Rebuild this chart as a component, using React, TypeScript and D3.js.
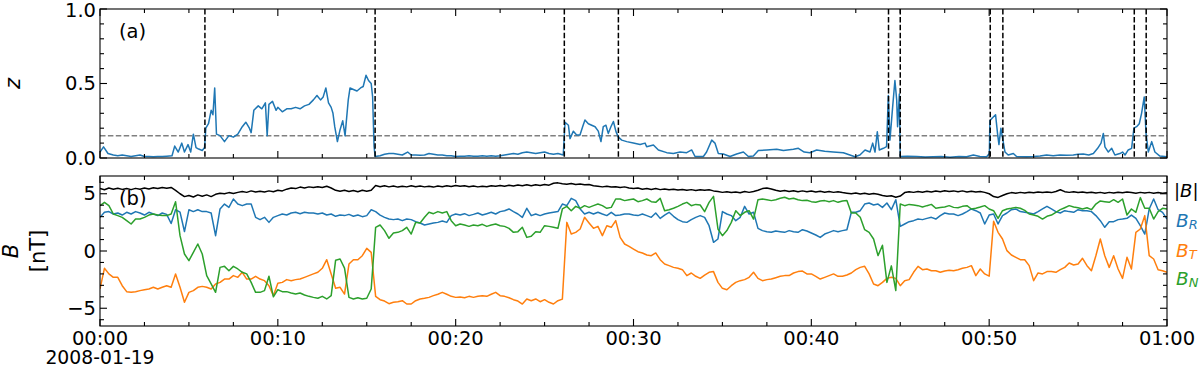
import React from 'react';
import * as d3 from 'd3';

// ---------- data ----------
const xTickLabels = ['00:00', '00:10', '00:20', '00:30', '00:40', '00:50', '01:00'];
const xTickMinutes = [0, 10, 20, 30, 40, 50, 60];
const dateLabel = '2008-01-19';
const eventTimes = [5.9, 15.47, 26.11, 29.15, 44.34, 45.0, 50.06, 50.77, 58.16, 58.83];
const zThreshold = 0.15;
const STEP = 0.25; // minutes between B samples

const zData: [number, number][] = [
  [0,0.04],[0.2,0.075],[0.45,0.03],[0.75,0.02],[1,0.015],[1.25,0.02],[1.5,0.015],[1.75,0.01],[2,0.015],[2.25,0.02],[2.5,0.01],[2.75,0.01],[3,0.008],[3.25,0.01],[3.5,0.01],[3.75,0.012],[4.05,0.015],[4.2,0.08],[4.4,0.04],[4.6,0.1],[4.75,0.04],[4.95,0.09],[5.1,0.04],[5.25,0.16],[5.4,0.07],[5.55,0.06],[5.75,0.05],[5.88,0.07],[5.95,0.2],[6.1,0.23],[6.25,0.32],[6.35,0.29],[6.45,0.47],[6.55,0.16],[6.75,0.15],[7.0,0.11],[7.25,0.15],[7.5,0.14],[7.75,0.16],[8.0,0.21],[8.2,0.24],[8.4,0.2],[8.5,0.17],[8.65,0.32],[8.9,0.35],[9.1,0.33],[9.3,0.37],[9.4,0.15],[9.5,0.36],[9.7,0.38],[9.9,0.32],[10.0,0.34],[10.25,0.31],[10.5,0.33],[10.75,0.33],[11.0,0.34],[11.25,0.33],[11.5,0.35],[11.75,0.36],[12.0,0.39],[12.2,0.42],[12.4,0.39],[12.55,0.41],[12.7,0.47],[12.85,0.37],[13.0,0.34],[13.1,0.3],[13.2,0.21],[13.35,0.11],[13.5,0.19],[13.65,0.25],[13.78,0.15],[13.96,0.39],[14.06,0.47],[14.25,0.46],[14.45,0.45],[14.65,0.47],[14.8,0.48],[14.96,0.555],[15.1,0.52],[15.25,0.5],[15.33,0.41],[15.41,0.08],[15.47,0.01],[15.75,0.015],[16.0,0.025],[16.25,0.03],[16.5,0.03],[16.75,0.025],
  [17.0,0.02],[17.3,0.04],[17.5,0.02],[17.75,0.02],[18.0,0.018],[18.25,0.02],[18.5,0.03],[18.75,0.025],[19.0,0.02],[19.25,0.02],[19.5,0.015],[19.75,0.015],[20.0,0.01],[20.25,0.012],[20.5,0.012],[20.75,0.015],[21.0,0.012],[21.25,0.012],[21.5,0.015],[21.75,0.012],[22.0,0.015],[22.25,0.012],[22.5,0.015],[22.75,0.02],[23.0,0.025],[23.25,0.03],[23.5,0.025],[23.75,0.035],[24.0,0.04],[24.25,0.035],[24.5,0.03],[24.75,0.035],[25.0,0.04],[25.25,0.03],[25.5,0.025],[25.75,0.03],[26.05,0.02],[26.15,0.24],[26.34,0.22],[26.43,0.13],[26.62,0.18],[26.8,0.155],[26.99,0.155],[27.14,0.21],[27.27,0.255],[27.46,0.23],[27.65,0.22],[27.84,0.21],[28.02,0.18],[28.17,0.11],[28.3,0.21],[28.45,0.22],[28.58,0.165],[28.73,0.21],[28.87,0.245],[29.02,0.175],[29.15,0.14],[29.34,0.12],[29.62,0.11],[29.99,0.1],[30.37,0.09],[30.65,0.1],[30.74,0.075],[31.12,0.087],[31.4,0.054],[31.87,0.036],[32.24,0.03],[32.62,0.04],[32.99,0.036],[33.27,0.054],[33.46,0.01],[33.93,0.01],[34.11,0.04],[34.4,0.12],[34.58,0.1],[34.77,0.03],[35.05,0.027],[35.43,0.01],[35.8,0.027],[36.18,0.04],[36.46,0.01],[36.74,0.013],[37.02,0.05],[37.49,0.054],[38.05,0.058],[38.43,0.05],[38.99,0.058],[39.27,0.065],
  [39.6,0.04],[39.92,0.035],[40.3,0.054],[40.75,0.045],[41.23,0.04],[41.8,0.035],[42.17,0.02],[42.45,0.008],[42.73,0.02],[43.02,0.054],[43.3,0.04],[43.45,0.1],[43.58,0.04],[43.71,0.176],[43.82,0.054],[44.05,0.065],[44.23,0.076],[44.33,0.42],[44.42,0.12],[44.57,0.34],[44.7,0.52],[44.8,0.39],[44.85,0.21],[44.95,0.43],[45.0,0.01],[45.4,0.012],[45.92,0.01],[46.4,0.006],[46.86,0.008],[47.3,0.01],[47.8,0.005],[48.3,0.01],[48.73,0.008],[49.11,0.02],[49.48,0.01],[49.86,0.008],[50.01,0.03],[50.04,0.25],[50.19,0.27],[50.36,0.29],[50.47,0.165],[50.55,0.09],[50.66,0.2],[50.76,0.13],[50.89,0.04],[51.07,0.02],[51.36,0.03],[51.54,0.01],[52.1,0.008],[52.5,0.01],[52.86,0.013],[53.23,0.02],[53.6,0.015],[53.98,0.02],[54.35,0.018],[54.73,0.02],[55.0,0.025],[55.29,0.027],[55.6,0.02],[55.86,0.03],[56.1,0.065],[56.29,0.1],[56.42,0.165],[56.51,0.075],[56.7,0.04],[56.89,0.065],[57.07,0.02],[57.35,0.03],[57.5,0.04],[57.64,0.02],[57.82,0.054],[58.01,0.065],[58.14,0.2],[58.29,0.21],[58.44,0.23],[58.57,0.3],[58.72,0.41],[58.82,0.165],[58.95,0.04],[59.14,0.11],[59.32,0.04],[59.6,0.013],[60,0.008],
];

const bMag = [
  5.45,5.35,5.5,5.4,5.48,5.38,5.45,5.36,5.47,5.4,5.5,5.42,5.52,5.45,5.55,5.48,5.55,5.3,5.0,4.75,4.85,4.72,4.9,4.78,4.9,4.75,4.95,5.05,5.0,5.1,5.02,5.12,5.2,5.12,5.25,5.15,5.22,5.15,5.25,5.18,5.3,5.25,5.4,5.5,5.45,5.58,5.5,5.6,5.55,
  5.62,5.55,5.65,5.5,5.3,5.22,5.3,5.2,5.28,5.18,5.3,5.22,5.3,5.72,5.62,5.7,5.6,5.68,5.58,5.66,5.6,5.7,5.62,5.68,5.6,5.65,5.58,5.68,5.62,5.7,5.64,5.72,5.65,5.7,5.62,5.68,5.6,5.66,5.62,5.7,5.65,5.72,5.66,5.74,5.68,5.76,5.7,5.78,
  5.7,5.78,5.72,5.8,5.75,5.92,5.95,5.88,5.82,5.9,5.8,5.86,5.78,5.8,5.7,5.66,5.6,5.66,5.58,5.62,5.55,5.6,5.5,5.45,5.5,5.4,5.45,5.38,5.45,5.36,5.42,5.35,5.4,5.32,5.38,5.3,5.36,5.28,5.35,5.3,5.34,5.25,5.2,5.12,5.18,5.1,5.15,5.08,
  5.2,5.12,5.2,5.3,5.45,5.5,5.42,5.3,5.22,5.28,5.2,5.26,5.18,5.25,5.18,5.24,5.15,5.22,5.14,5.2,5.12,5.18,5.1,5.05,5.0,5.06,4.98,5.04,4.96,5.02,4.95,4.85,4.78,4.82,4.7,4.8,5.1,5.18,5.12,5.2,5.14,5.22,5.15,5.24,5.18,5.26,5.2,5.25,
  5.18,5.25,5.16,5.22,5.15,5.2,5.12,5.0,4.75,4.68,4.85,5.0,5.1,5.05,5.12,5.06,5.14,5.08,5.15,5.1,5.16,5.1,5.2,5.35,5.18,5.12,5.18,5.1,5.16,5.08,5.14,5.06,5.12,5.05,5.12,5.06,5.14,5.08,5.15,5.1,5.05,5.12,5.06,5.12,5.05,5.1,5.04,5.08,
];

const bR = [
  2.94,3.38,3.44,3.23,3.32,3.14,3.38,3.23,3.44,3.32,3.14,3.38,3.23,3.09,3.32,3.2,2.4,3.6,3.4,1.7,3.6,3.44,3.6,3.44,3.44,3.32,1.34,3.67,4.1,3.81,4.54,4.1,3.96,4.1,4.1,2.94,2.74,2.94,2.5,2.94,3.09,3.23,3.14,3.32,3.38,3.26,3.38,3.32,3.32,
  3.23,3.32,3.14,3.23,3.03,3.14,3.09,3.2,3.03,3.14,3.0,3.09,3.6,3.44,3.14,2.94,2.79,2.74,2.79,2.65,2.79,2.74,2.56,2.45,2.27,2.36,2.45,2.5,2.62,2.5,3.09,3.23,3.14,3.26,3.09,3.2,3.32,3.14,3.26,3.38,3.23,3.44,3.52,3.67,3.44,3.23,2.94,3.73,
  3.09,3.23,3.09,3.23,3.32,3.38,3.44,4.1,3.96,4.6,4.4,3.67,3.23,3.38,3.23,3.38,3.23,3.09,3.38,3.09,3.14,3.23,3.23,3.14,3.09,3.23,3.09,2.94,3.32,2.85,3.14,3.38,3.03,2.74,2.56,2.5,2.74,2.94,3.09,2.94,2.21,0.76,1.05,3.44,3.23,3.09,2.65,2.94,
  3.9,3.23,3.38,1.98,1.78,1.69,1.63,1.75,1.69,1.63,1.78,1.69,1.63,1.86,1.75,1.57,1.4,1.19,1.48,1.63,1.78,1.69,1.78,1.86,3.38,3.38,3.52,4.1,4.19,4.02,4.1,3.81,4.19,3.61,4.48,2.15,2.36,2.56,2.65,2.79,2.74,2.85,2.94,2.79,3.09,3.32,3.23,3.23,
  3.09,3.23,3.44,3.67,3.52,3.32,2.36,3.14,3.23,2.36,3.09,3.32,3.61,3.67,3.44,3.38,3.32,3.23,3.44,3.67,3.9,3.67,3.44,3.32,3.52,3.44,3.38,3.61,3.52,3.52,3.44,3.09,2.65,2.07,2.56,2.56,2.74,2.79,2.85,3.14,2.85,2.21,1.48,3.67,4.54,3.61,3.38,2.79,
];

const bT = [
  -3.3,-1.51,-2.0,-2.3,-2.3,-3.03,-3.55,-3.61,-3.55,-3.46,-3.38,-3.32,-3.17,-3.32,-3.17,-3.03,-3.17,-2.0,-3.17,-4.48,-3.61,-3.46,-3.17,-3.09,-3.17,-3.32,-2.88,-2.74,-2.45,-2.45,-2.15,-2.3,-1.86,-2.45,-2.45,-2.21,-2.45,-2.59,-3.03,-3.9,-2.82,-2.74,-2.5,-2.59,-2.5,-2.45,-2.3,-2.15,-2.0,
  -1.86,-1.51,-0.76,-2.0,-3.26,-3.17,-3.76,-1.14,-0.76,-0.76,-0.41,0.23,-0.12,-3.96,-4.25,-4.37,-4.6,-4.48,-4.43,-4.34,-4.63,-4.63,-4.34,-4.19,-4.13,-4.05,-3.9,-3.78,-3.61,-3.78,-3.96,-4.05,-4.02,-4.08,-3.96,-4.05,-3.96,-3.9,-3.96,-3.78,-3.61,-3.9,-3.96,-4.08,-4.25,-4.37,-4.63,-4.19,
  -4.34,-4.19,-4.43,-4.25,-4.48,-4.63,-4.34,-4.2,2.5,1.48,1.63,1.92,2.94,2.45,1.98,2.15,1.34,2.21,2.07,2.65,1.19,0.61,0.41,0.17,-0.06,-0.17,-0.35,-0.41,-0.17,-0.76,-1.14,-1.28,-1.43,-1.51,-1.63,-2.15,-1.92,-2.21,-2.39,-2.1,-1.86,-1.8,-2.74,-3.26,-3.38,-3.03,-2.74,-2.59,
  -2.5,-2.3,-1.86,-2.39,-2.59,-2.5,-2.45,-2.33,-2.21,-2.15,-2.15,-1.92,-1.8,-1.75,-2.0,-2.0,-2.21,-2.45,-2.3,-2.15,-2.0,-2.21,-2.21,-2.1,-1.92,-1.63,-1.43,-1.34,-2.0,-2.88,-3.03,-2.74,-2.39,-2.3,-2.39,-3.03,-2.59,-2.5,-1.86,-1.34,-1.63,-1.57,-1.72,-1.72,-1.86,-1.75,-1.69,-1.72,
  -1.63,-1.51,-1.43,-1.28,-2.15,-1.57,-2.0,-2.2,2.6,1.63,1.05,0.03,-0.35,-0.55,-0.76,-0.76,-1.28,-2.59,-1.92,-2.0,-1.8,-1.8,-1.86,-1.63,-1.43,-1.05,-1.22,-1.14,-0.64,-1.28,-1.72,-0.41,1.05,-0.41,-1.43,-0.41,-1.57,-2.39,-0.55,-1.57,1.63,1.92,3.09,-0.41,-0.7,-1.63,-1.72,-1.86,
];

const bN = [
  3.96,4.25,3.96,3.23,3.09,2.94,2.65,2.36,2.79,2.79,2.94,3.14,3.23,3.14,3.09,3.09,3.23,4.3,1.34,-0.26,-0.84,-0.12,0.61,-0.26,-2.15,-2.88,-3.61,-1.43,-1.34,-1.72,-1.34,-1.57,-1.86,-2.0,-2.74,-3.61,-3.61,-3.46,-2.2,-4.0,-3.38,-3.55,-3.55,-3.67,-3.76,-3.67,-3.84,-3.96,-4.05,
  -4.13,-3.96,-4.19,-3.9,-0.8,-0.7,-1.5,-4.05,-4.19,-4.08,-4.19,-4.13,-3.32,2.07,2.27,1.78,1.11,1.57,1.63,1.78,2.07,1.48,2.5,2.45,2.94,3.38,3.26,3.44,3.32,3.44,2.65,2.21,2.36,2.27,2.15,2.27,2.21,2.33,2.15,2.27,2.36,2.21,2.15,1.98,1.63,1.69,2.07,1.19,
  1.28,1.69,1.63,2.21,2.15,2.07,1.98,3.67,3.9,3.52,3.9,3.73,3.96,3.81,3.96,4.1,3.96,3.73,3.81,4.54,4.54,4.4,4.48,4.54,4.31,4.4,4.54,4.31,4.25,4.6,3.52,3.61,3.73,3.9,4.1,4.25,3.96,4.07,4.02,3.44,4.25,4.77,1.92,1.34,1.78,2.5,3.52,3.09,
  3.38,3.52,2.79,4.48,4.54,4.48,4.4,4.48,4.6,4.69,4.54,4.6,4.48,4.4,4.43,4.31,4.25,4.37,4.4,4.31,4.4,4.25,4.37,4.4,3.32,3.32,2.94,1.86,1.63,1.05,-0.4,0.5,-2.74,-1.3,-3.45,4.1,3.96,4.07,4.02,3.96,3.84,3.96,4.07,3.73,3.79,3.84,3.96,3.81,
  3.78,3.9,3.96,3.67,3.73,3.84,3.96,3.67,3.52,2.85,3.52,3.67,3.73,3.81,3.73,3.55,3.23,3.14,3.03,2.79,3.03,3.14,3.38,3.61,3.78,3.96,3.84,3.78,3.67,3.78,3.61,4.1,4.37,4.31,4.25,4.48,4.25,4.54,3.14,3.67,3.38,4.66,3.73,3.73,2.79,3.44,3.73,3.67,
];

const seriesB = [
  { name: 'mag', values: bMag, color: '#000000' },
  { name: 'R', values: bR, color: '#1f77b4' },
  { name: 'T', values: bT, color: '#ff7f0e' },
  { name: 'N', values: bN, color: '#2ca02c' },
];

const FONT = "'DejaVu Sans', sans-serif";

export default function App() {
  const W = 1200, H = 369;
  const left = 100, right = 1167;
  const aTop = 9, aBot = 158;
  const bTop = 176, bBot = 326;

  const x = d3.scaleLinear().domain([0, 60]).range([left, right]);
  const yA = d3.scaleLinear().domain([0, 1]).range([aBot, aTop]);
  const yB = d3.scaleLinear().domain([-6.55, 6.55]).range([bBot, bTop]);

  const lineA = d3.line<[number, number]>().x(d => x(d[0])).y(d => yA(d[1]));
  const lineB = d3.line<number>().x((_, i) => x(i * STEP)).y(d => yB(d));

  const xMajor = d3.range(0, 60.001, 10);
  const xMinor = d3.range(0, 60.001, 2.5).filter(v => Math.abs(v % 10) > 1e-6);

  const MAJ = 7, MIN = 4, TW = 1.1;
  const tickFont = 19.5;

  const panelTicks = (top: number, bot: number, yScale: any, yMaj: number[], yMin: number[], key: string) => {
    const els: any[] = [];
    xMajor.forEach((v, i) => {
      els.push(<line key={`${key}xM${i}`} x1={x(v)} x2={x(v)} y1={bot} y2={bot - MAJ} stroke="#000" strokeWidth={TW} />);
      els.push(<line key={`${key}xMt${i}`} x1={x(v)} x2={x(v)} y1={top} y2={top + MAJ} stroke="#000" strokeWidth={TW} />);
    });
    xMinor.forEach((v, i) => {
      els.push(<line key={`${key}xm${i}`} x1={x(v)} x2={x(v)} y1={bot} y2={bot - MIN} stroke="#000" strokeWidth={TW} />);
      els.push(<line key={`${key}xmt${i}`} x1={x(v)} x2={x(v)} y1={top} y2={top + MIN} stroke="#000" strokeWidth={TW} />);
    });
    yMaj.forEach((v, i) => {
      els.push(<line key={`${key}yM${i}`} x1={left} x2={left + MAJ} y1={yScale(v)} y2={yScale(v)} stroke="#000" strokeWidth={TW} />);
      els.push(<line key={`${key}yMr${i}`} x1={right} x2={right - MAJ} y1={yScale(v)} y2={yScale(v)} stroke="#000" strokeWidth={TW} />);
    });
    yMin.forEach((v, i) => {
      els.push(<line key={`${key}ym${i}`} x1={left} x2={left + MIN} y1={yScale(v)} y2={yScale(v)} stroke="#000" strokeWidth={TW} />);
      els.push(<line key={`${key}ymr${i}`} x1={right} x2={right - MIN} y1={yScale(v)} y2={yScale(v)} stroke="#000" strokeWidth={TW} />);
    });
    return els;
  };

  const aMaj = [0, 0.5, 1];
  const aMin = d3.range(0.1, 1, 0.1).filter(v => Math.abs(v - 0.5) > 1e-6);
  const bMaj = [-5, 0, 5];
  const bMin = d3.range(-6, 7, 1).filter(v => v % 5 !== 0);

  return (
    <div style={{ position: 'fixed', left: 0, top: 0 }}>
      <svg width={W} height={H} style={{ display: 'block', background: '#fff' }} fontFamily={FONT}>
        <defs>
          <clipPath id="clipA"><rect x={left} y={aTop} width={right - left} height={aBot - aTop} /></clipPath>
          <clipPath id="clipB"><rect x={left} y={bTop} width={right - left} height={bBot - bTop} /></clipPath>
        </defs>

        {/* Panel (a) */}
        <g clipPath="url(#clipA)">
          <line x1={left} x2={right} y1={yA(zThreshold)} y2={yA(zThreshold)} stroke="#808080" strokeWidth={1.5} strokeDasharray="5.5,2.4" />
          <path d={lineA(zData) || ''} fill="none" stroke="#1f77b4" strokeWidth={1.5} strokeLinejoin="round" />
          {eventTimes.map((t, i) => (
            <line key={`ev${i}`} x1={x(t)} x2={x(t)} y1={aTop} y2={aBot} stroke="#000" strokeWidth={1.5} strokeDasharray="5.5,2.4" />
          ))}
        </g>
        <rect x={left} y={aTop} width={right - left} height={aBot - aTop} fill="none" stroke="#000" strokeWidth={1.1} />
        {panelTicks(aTop, aBot, yA, aMaj, aMin, 'a')}
        {aMaj.map((v, i) => (
          <text key={`al${i}`} x={left - 4} y={Math.max(yA(v), 10.5)} textAnchor="end" dominantBaseline="central" fontSize={tickFont}>{v.toFixed(1)}</text>
        ))}
        <text x={119} y={31} fontSize={tickFont} dominantBaseline="central">(a)</text>
        <text transform={`translate(13,${(aTop + aBot) / 2}) rotate(-90)`} textAnchor="middle" dominantBaseline="central" fontSize={21} fontStyle="italic">z</text>

        {/* Panel (b) */}
        <g clipPath="url(#clipB)">
          {seriesB.map(s => (
            <path key={s.name} d={lineB(s.values) || ''} fill="none" stroke={s.color} strokeWidth={1.5} strokeLinejoin="round" />
          ))}
        </g>
        <rect x={left} y={bTop} width={right - left} height={bBot - bTop} fill="none" stroke="#000" strokeWidth={1.1} />
        {panelTicks(bTop, bBot, yB, bMaj, bMin, 'b')}
        {bMaj.map((v, i) => (
          <text key={`bl${i}`} x={left - 4} y={yB(v)} textAnchor="end" dominantBaseline="central" fontSize={tickFont}>{v < 0 ? `\u2212${Math.abs(v)}` : `${v}`}</text>
        ))}
        <text x={119} y={198} fontSize={tickFont} dominantBaseline="central">(b)</text>
        <text transform={`translate(11,${(bTop + bBot) / 2}) rotate(-90)`} textAnchor="middle" dominantBaseline="central" fontSize={21} fontStyle="italic">B</text>
        <text transform={`translate(38,${(bTop + bBot) / 2}) rotate(-90)`} textAnchor="middle" dominantBaseline="central" fontSize={21}>[nT]</text>

        {/* x tick labels */}
        {xTickMinutes.map((m, i) => (
          <text key={`xl${i}`} x={x(m)} y={345} textAnchor="middle" fontSize={tickFont}>{xTickLabels[i]}</text>
        ))}
        <text x={x(0)} y={364} textAnchor="middle" fontSize={18.8}>{dateLabel}</text>

        {/* right-side labels */}
        <text x={1174} y={190} dominantBaseline="central" fontSize={18}>
          |<tspan fontStyle="italic">B</tspan>|
        </text>
        <text x={1176} y={220} dominantBaseline="central" fontSize={18.5} fill="#1f77b4">
          <tspan fontStyle="italic">B</tspan><tspan fontStyle="italic" fontSize={13} dy={4}>R</tspan>
        </text>
        <text x={1176} y={250} dominantBaseline="central" fontSize={18.5} fill="#ff7f0e">
          <tspan fontStyle="italic">B</tspan><tspan fontStyle="italic" fontSize={13} dy={4}>T</tspan>
        </text>
        <text x={1176} y={278} dominantBaseline="central" fontSize={18.5} fill="#2ca02c">
          <tspan fontStyle="italic">B</tspan><tspan fontStyle="italic" fontSize={13} dy={4}>N</tspan>
        </text>
      </svg>
    </div>
  );
}
